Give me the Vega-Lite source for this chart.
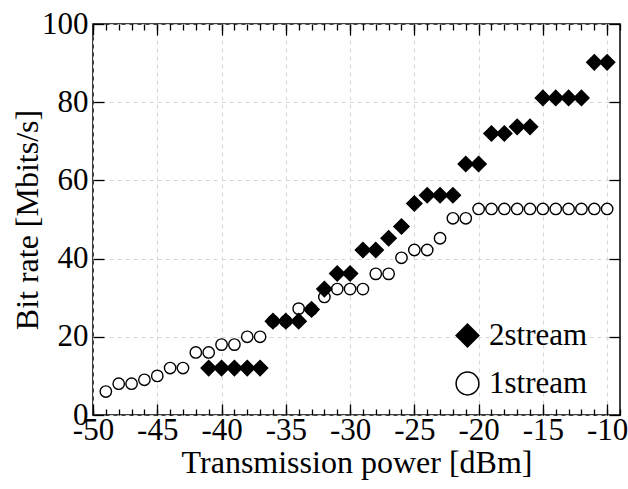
{
  "$schema": "https://vega.github.io/schema/vega-lite/v6.json",
  "autosize": "none",
  "width": 527,
  "height": 391,
  "padding": {"left": 93, "top": 24, "right": 8, "bottom": 74},
  "background": "white",
  "config": {
    "view": {"stroke": "black", "strokeWidth": 1.5},
    "axis": {
      "labelFont": "Liberation Serif",
      "labelFontSize": 31,
      "labelColor": "black",
      "titleFont": "Liberation Serif",
      "titleFontSize": 32,
      "titleFontWeight": "normal",
      "titleColor": "black",
      "tickColor": "black",
      "tickWidth": 1.3,
      "domain": false,
      "gridColor": "#d6d6d6",
      "gridDash": [4, 4],
      "gridWidth": 1,
      "labelFlush": false,
      "labelOverlap": false,
      "labelBound": false,
      "labelExpr": "'' + datum.value"
    },
    "legend": {
      "labelFont": "Liberation Serif",
      "labelFontSize": 31,
      "labelColor": "black"
    }
  },
  "data": {
    "values": [
      {"power": -49, "rate": 6, "series": "1stream"},
      {"power": -48, "rate": 8, "series": "1stream"},
      {"power": -47, "rate": 8, "series": "1stream"},
      {"power": -46, "rate": 9, "series": "1stream"},
      {"power": -45, "rate": 10, "series": "1stream"},
      {"power": -44, "rate": 12, "series": "1stream"},
      {"power": -43, "rate": 12, "series": "1stream"},
      {"power": -42, "rate": 16, "series": "1stream"},
      {"power": -41, "rate": 16, "series": "1stream"},
      {"power": -40, "rate": 18, "series": "1stream"},
      {"power": -39, "rate": 18, "series": "1stream"},
      {"power": -38, "rate": 20, "series": "1stream"},
      {"power": -37, "rate": 20, "series": "1stream"},
      {"power": -36, "rate": 24, "series": "1stream"},
      {"power": -35, "rate": 24, "series": "1stream"},
      {"power": -34, "rate": 27.2, "series": "1stream"},
      {"power": -33, "rate": 27, "series": "1stream"},
      {"power": -32, "rate": 30.2, "series": "1stream"},
      {"power": -31, "rate": 32.2, "series": "1stream"},
      {"power": -30, "rate": 32.2, "series": "1stream"},
      {"power": -29, "rate": 32.2, "series": "1stream"},
      {"power": -28, "rate": 36.1, "series": "1stream"},
      {"power": -27, "rate": 36.1, "series": "1stream"},
      {"power": -26, "rate": 40.2, "series": "1stream"},
      {"power": -25, "rate": 42.2, "series": "1stream"},
      {"power": -24, "rate": 42.2, "series": "1stream"},
      {"power": -23, "rate": 45.2, "series": "1stream"},
      {"power": -22, "rate": 50.3, "series": "1stream"},
      {"power": -21, "rate": 50.3, "series": "1stream"},
      {"power": -20, "rate": 52.7, "series": "1stream"},
      {"power": -19, "rate": 52.7, "series": "1stream"},
      {"power": -18, "rate": 52.7, "series": "1stream"},
      {"power": -17, "rate": 52.7, "series": "1stream"},
      {"power": -16, "rate": 52.7, "series": "1stream"},
      {"power": -15, "rate": 52.7, "series": "1stream"},
      {"power": -14, "rate": 52.7, "series": "1stream"},
      {"power": -13, "rate": 52.7, "series": "1stream"},
      {"power": -12, "rate": 52.7, "series": "1stream"},
      {"power": -11, "rate": 52.7, "series": "1stream"},
      {"power": -10, "rate": 52.7, "series": "1stream"},
      {"power": -41, "rate": 12, "series": "2stream"},
      {"power": -40, "rate": 12, "series": "2stream"},
      {"power": -39, "rate": 12, "series": "2stream"},
      {"power": -38, "rate": 12, "series": "2stream"},
      {"power": -37, "rate": 12, "series": "2stream"},
      {"power": -36, "rate": 24, "series": "2stream"},
      {"power": -35, "rate": 24, "series": "2stream"},
      {"power": -34, "rate": 24, "series": "2stream"},
      {"power": -33, "rate": 27, "series": "2stream"},
      {"power": -32, "rate": 32.2, "series": "2stream"},
      {"power": -31, "rate": 36.2, "series": "2stream"},
      {"power": -30, "rate": 36.2, "series": "2stream"},
      {"power": -29, "rate": 42.2, "series": "2stream"},
      {"power": -28, "rate": 42.2, "series": "2stream"},
      {"power": -27, "rate": 45.2, "series": "2stream"},
      {"power": -26, "rate": 48.2, "series": "2stream"},
      {"power": -25, "rate": 54.1, "series": "2stream"},
      {"power": -24, "rate": 56.2, "series": "2stream"},
      {"power": -23, "rate": 56.2, "series": "2stream"},
      {"power": -22, "rate": 56.2, "series": "2stream"},
      {"power": -21, "rate": 64.2, "series": "2stream"},
      {"power": -20, "rate": 64.2, "series": "2stream"},
      {"power": -19, "rate": 72, "series": "2stream"},
      {"power": -18, "rate": 72, "series": "2stream"},
      {"power": -17, "rate": 73.7, "series": "2stream"},
      {"power": -16, "rate": 73.7, "series": "2stream"},
      {"power": -15, "rate": 81.1, "series": "2stream"},
      {"power": -14, "rate": 81.1, "series": "2stream"},
      {"power": -13, "rate": 81.1, "series": "2stream"},
      {"power": -12, "rate": 81.1, "series": "2stream"},
      {"power": -11, "rate": 90.2, "series": "2stream"},
      {"power": -10, "rate": 90.2, "series": "2stream"}
    ]
  },
  "resolve": {"axis": {"x": "independent", "y": "independent"}},
  "layer": [
    {
      "mark": {"type": "point", "opacity": 0},
      "encoding": {
        "x": {"field": "power", "type": "quantitative",
              "scale": {"domain": [-50, -9], "nice": false, "zero": false},
              "axis": {"orient": "bottom", "values": [-50,-49,-48,-47,-46,-45,-44,-43,-42,-41,-40,-39,-38,-37,-36,-35,-34,-33,-32,-31,-30,-29,-28,-27,-26,-25,-24,-23,-22,-21,-20,-19,-18,-17,-16,-15,-14,-13,-12,-11,-10,-9],
                       "tickSize": -6, "labels": false, "grid": false, "title": null}},
        "y": {"field": "rate", "type": "quantitative",
              "scale": {"domain": [0, 100], "nice": false},
              "axis": {"orient": "right", "values": [0, 20, 40, 60, 80, 100], "tickSize": -11, "labels": false, "grid": false, "title": null}}
      }
    },
    {
      "mark": {"type": "point", "opacity": 0},
      "encoding": {
        "x": {"field": "power", "type": "quantitative",
              "axis": {"orient": "top", "values": [-50,-49,-48,-47,-46,-45,-44,-43,-42,-41,-40,-39,-38,-37,-36,-35,-34,-33,-32,-31,-30,-29,-28,-27,-26,-25,-24,-23,-22,-21,-20,-19,-18,-17,-16,-15,-14,-13,-12,-11,-10,-9],
                       "tickSize": -6, "labels": false, "grid": false, "title": null}},
        "y": {"field": "rate", "type": "quantitative", "axis": null}
      }
    },
    {
      "mark": {"type": "point", "opacity": 0},
      "encoding": {
        "x": {"field": "power", "type": "quantitative",
              "axis": {"orient": "top", "values": [-50, -45, -40, -35, -30, -25, -20, -15, -10],
                       "tickSize": -11, "labels": false, "grid": false, "title": null}},
        "y": {"field": "rate", "type": "quantitative", "axis": null}
      }
    },
    {
      "mark": {"type": "point", "filled": false, "stroke": "black", "strokeWidth": 1.4, "opacity": 1},
      "encoding": {
        "x": {"field": "power", "type": "quantitative",
              "axis": {"orient": "bottom", "values": [-50, -45, -40, -35, -30, -25, -20, -15, -10],
                       "tickSize": -11, "labelPadding": 11, "grid": true, "title": "Transmission power [dBm]", "titlePadding": 2}},
        "y": {"field": "rate", "type": "quantitative",
              "axis": {"orient": "left", "values": [0, 20, 40, 60, 80, 100],
                       "tickSize": -11, "labelPadding": 16, "grid": true, "title": "Bit rate [Mbits/s]", "titlePadding": -3}},
        "shape": {"field": "series", "type": "nominal",
                  "scale": {"domain": ["2stream", "1stream"], "range": ["diamond", "circle"]},
                  "legend": {"title": null, "orient": "none", "legendX": 359, "legendY": 296, "padding": 0,
                             "symbolSize": 520, "rowPadding": 16, "labelOffset": 6,
                             "encode": {"symbols": {"update": {"stroke": {"value": "black"}, "strokeWidth": {"value": 1.6}, "opacity": {"value": 1}}}}}},
        "fill": {"field": "series", "type": "nominal",
                 "scale": {"domain": ["2stream", "1stream"], "range": ["black", "white"]},
                 "legend": {"title": null, "orient": "none", "legendX": 359, "legendY": 296, "padding": 0,
                            "symbolSize": 520, "rowPadding": 16, "labelOffset": 6,
                            "encode": {"symbols": {"update": {"stroke": {"value": "black"}, "strokeWidth": {"value": 1.6}, "opacity": {"value": 1}}}}}},
        "size": {"condition": {"test": "datum.series === '2stream'", "value": 230}, "value": 130}
      }
    }
  ]
}
